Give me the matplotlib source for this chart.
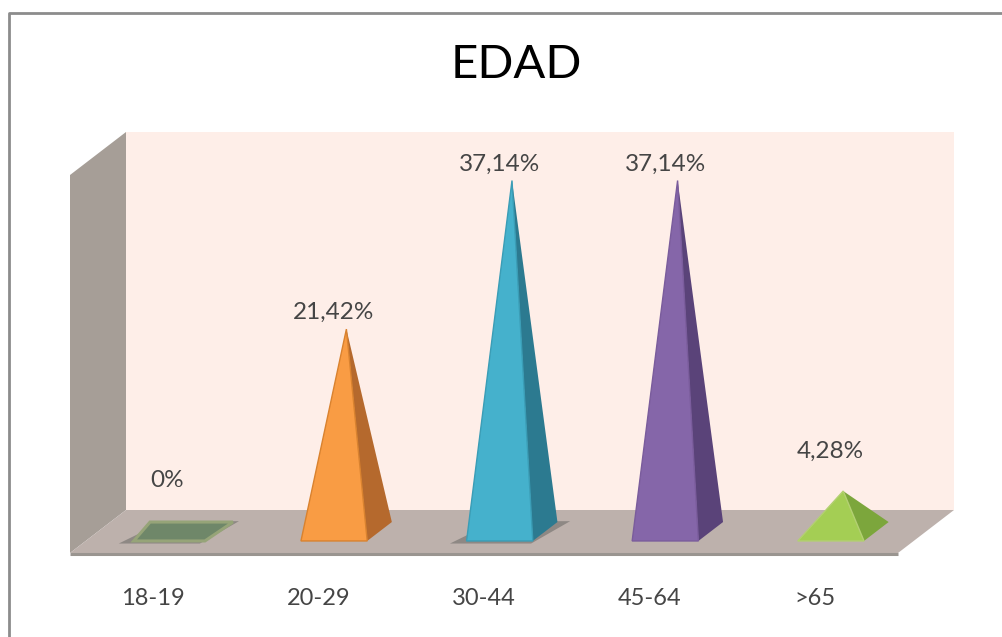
import matplotlib
matplotlib.use("Agg")
import matplotlib.pyplot as plt
from matplotlib.lines import Line2D
from matplotlib.patches import Polygon

# --- data ---
categories = ["18-19", "20-29", "30-44", "45-64", ">65"]
values = [0, 21.42, 37.14, 37.14, 4.28]
value_labels = ["0%", "21,42%", "37,14%", "37,14%", "4,28%"]
title = "EDAD"

# --- style ---
front_colors = ["#6F8769", "#F99C44", "#45B1CC", "#8566A9", "#A4CE54"]
side_colors = ["#6F8769", "#B5692D", "#2C7A90", "#5A4379", "#7CA63C"]
edge_colors = ["#96A478", "#D9822F", "#3A9DB6", "#7A5C9C", "#B3D072"]
label_offset = [(-10, 36.5), (-9.5, 12), (-9, 12), (-9, 12), (-9, 28.5)]  # points from apex
shadow_on = [True, False, True, False, False]

W, H = 1003, 637
plt.rcParams["font.family"] = ["Lato", "DejaVu Sans"]
fig = plt.figure(figsize=(W / 100, H / 100), dpi=100, facecolor="white")
ax = fig.add_axes([70 / W, (H - 553) / H, 828 / W, 378 / H])
ax.set_xlim(-0.5, 4.5)
ax.set_ylim(0, 40)
ax.patch.set_alpha(0)
for s in ax.spines.values():
    s.set_visible(False)
ax.set_yticks([])
ax.set_xticks(range(len(categories)))
ax.set_xticklabels(categories, fontsize=17, color="#454545")
ax.tick_params(axis="x", length=0, pad=25.5)

# oblique 3-D projection: depth 0..1 shifts right and up
DX = 56 / (828 / 5)
DY = 43 / (378 / 40)


def P(x, y, d):
    return (x + d * DX, y + d * DY)


def face(points, **kw):
    kw.setdefault("linewidth", 0)
    p = Polygon([P(*q) for q in points], closed=True, clip_on=False, **kw)
    ax.add_patch(p)
    return p


x0, x1, y1 = -0.5, 4.5, 40
face([(x0, 0, 1), (x1, 0, 1), (x1, y1, 1), (x0, y1, 1)], facecolor="#FEEEE8", zorder=1)
face([(x0, 0, 0), (x0, 0, 1), (x0, y1, 1), (x0, y1, 0)], facecolor="#A69E97", zorder=1)
face([(x0, 0, 0), (x1, 0, 0), (x1, 0, 1), (x0, 0, 1)], facecolor="#BDB1AC", zorder=1)
ax.add_line(Line2D([x0, x1], [-0.12, -0.12], color="#9A9590", lw=2.2, clip_on=False, zorder=2,
                   solid_capstyle="butt"))

HALF = 0.2
D0, D1 = 0.28, 0.72
for i, v in enumerate(values):
    a = (i - HALF, 0, D0)
    b = (i + HALF, 0, D0)
    c = (i + HALF, 0, D1)
    e = (i - HALF, 0, D1)
    top = (i, v, 0.5)
    if shadow_on[i]:
        s = (i - HALF - 0.08, 0, D0 - 0.06)
        face([s, (i + HALF + 0.01, 0, D0 - 0.06), (i + HALF + 0.07, 0, D1 + 0.02), (i - HALF + 0.02, 0, D1 + 0.02)],
             facecolor="#8E8884", zorder=3)
    if v == 0:
        face([(i - HALF - 0.01, 0, D0), (i + HALF + 0.02, 0, D0), (i + HALF + 0.04, 0, D1), (i - HALF - 0.06, 0, D1)],
             facecolor=front_colors[i], edgecolor=edge_colors[i], linewidth=2.2, zorder=4)
    else:
        face([b, c, top], facecolor=side_colors[i], zorder=4)
        face([a, b, top], facecolor=front_colors[i], edgecolor=edge_colors[i], linewidth=1, zorder=5)
    ax.annotate(value_labels[i], xy=P(i, v, 0.5), xytext=label_offset[i], textcoords="offset points",
                ha="center", va="center", fontsize=17.5, color="#454545", annotation_clip=False, zorder=6)

fig.text(516 / W, 1 - 65 / H, title, ha="center", va="center", fontsize=34, color="#000000")

# chart frame, cut by the image edge
fig.add_artist(Line2D([9 / W, 9 / W, 1], [0, 1 - 13 / H, 1 - 13 / H], color="#8C8C8C", lw=2,
                      transform=fig.transFigure))

fig.savefig("out.png", dpi=100)
